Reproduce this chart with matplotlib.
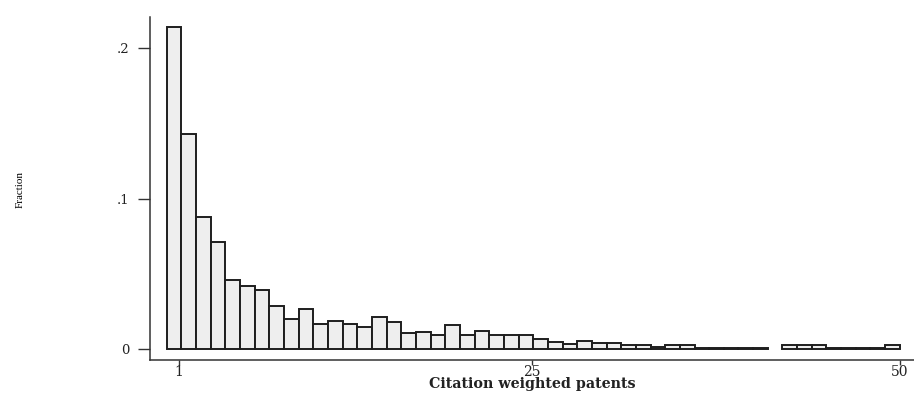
import matplotlib
matplotlib.use("Agg")
import matplotlib.pyplot as plt
import numpy as np

# histogram of citation weighted patents, 50 bins from 0.18 to 50
bin_start = 0.18
bin_end = 50.0
fraction = [
    0.2138, 0.1431, 0.0880, 0.0711, 0.0458, 0.0416, 0.0391, 0.0289, 0.0198, 0.0264,
    0.0164, 0.0187, 0.0169, 0.0144, 0.0213, 0.0182, 0.0109, 0.0116, 0.0091, 0.0162,
    0.0096, 0.0122, 0.0096, 0.0096, 0.0096, 0.0069, 0.0049, 0.0031, 0.0051, 0.0042,
    0.0042, 0.0027, 0.0027, 0.0011, 0.0029, 0.0029, 0.0010, 0.0010, 0.0010, 0.0010,
    0.0010, 0.0, 0.0030, 0.0030, 0.0030, 0.0008, 0.0010, 0.0008, 0.0008, 0.0030,
]
x_ticks = [1, 25, 50]
y_ticks = [0, 0.1, 0.2]
y_tick_labels = ["0", ".1", ".2"]

plt.rcParams["font.family"] = ["DejaVu Serif"]

fraction = np.array(fraction)
edges = np.linspace(bin_start, bin_end, len(fraction) + 1)
width = edges[1] - edges[0]
keep = fraction > 0  # empty bins leave a gap

fig = plt.figure(figsize=(9.14, 3.94), dpi=100)
ax = fig.add_axes([0.164, 0.086, 0.836, 0.871])
ax.bar(edges[:-1][keep], fraction[keep], width=width, align="edge",
       facecolor="#eeeeee", edgecolor="#1e1e1e", linewidth=1.4)

ax.set_xlim(-0.97, 50.97)
ax.set_ylim(-0.0073, 0.2206)
ax.set_xticks(x_ticks)
ax.set_xticklabels([str(t) for t in x_ticks], fontsize=10, color="#222222")
ax.set_yticks(y_ticks)
ax.set_yticklabels(y_tick_labels, fontsize=9.5, color="#222222")
ax.tick_params(axis="y", length=8.5, width=1.0, color="#333333", pad=6)
ax.tick_params(axis="x", length=3.5, width=1.0, color="#333333", pad=0)

for side in ["top", "right"]:
    ax.spines[side].set_visible(False)
for side in ["left", "bottom"]:
    ax.spines[side].set_linewidth(1.1)
    ax.spines[side].set_color("#333333")

ax.set_xlabel("Citation weighted patents", fontsize=10.3, fontweight="bold",
              color="#222222")
ax.xaxis.set_label_coords(0.5, -0.05)
fig.text(0.022, 0.52, "Fraction", rotation=90, fontsize=8,
         family=["Liberation Serif"], ha="center", va="center")

fig.savefig("out.png", dpi=100)
